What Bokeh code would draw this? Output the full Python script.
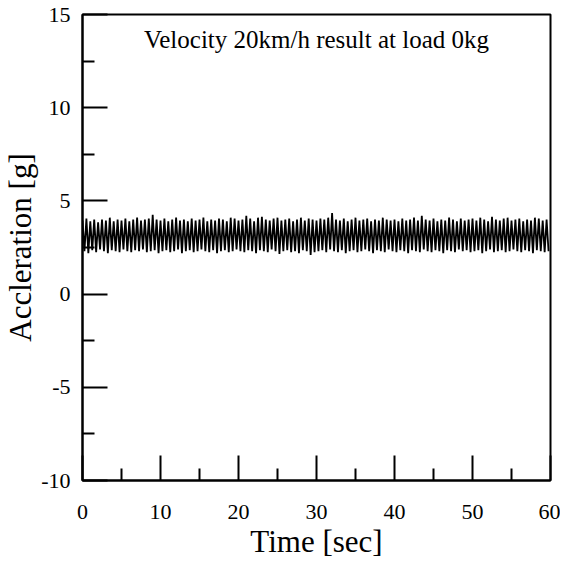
import numpy as np
from bokeh.plotting import figure
from bokeh.models import FixedTicker, Label, PrintfTickFormatter
from bokeh.embed import file_html
from bokeh.resources import INLINE

# ---- data ----
sample_period = 0.25  # sec between successive extremes
peak_values = [
    3.95,4.05,3.9,4.0,3.85,4.0,3.95,4.1,3.9,4.0,3.95,4.05,3.9,4.0,4.1,3.95,4.0,4.05,4.25,4.0,
    3.95,4.05,3.9,4.0,4.1,3.95,4.0,3.9,4.05,3.95,4.0,4.1,3.9,4.0,3.95,4.05,4.0,3.9,4.1,4.05,
    3.95,4.0,4.2,4.05,3.9,4.1,4.15,4.0,3.95,4.05,4.1,3.95,4.0,4.05,3.9,4.0,4.1,3.95,4.05,4.0,
    3.95,4.05,4.0,4.1,4.35,4.0,3.95,4.05,3.9,4.0,4.1,3.95,4.0,4.05,3.9,4.0,3.95,4.1,4.0,3.95,
    4.0,3.9,4.05,3.95,4.0,4.1,3.95,4.2,4.0,3.95,4.05,3.9,4.0,3.95,4.1,4.0,3.9,4.05,3.95,4.0,
    4.05,3.95,4.1,4.0,3.9,4.15,4.0,3.95,4.05,4.1,3.95,4.0,4.05,3.9,4.0,3.95,4.1,4.05,3.95,4.0,
]
trough_values = [
    2.3,2.2,2.35,2.25,2.4,2.3,2.2,2.35,2.3,2.25,2.4,2.3,2.25,2.35,2.3,2.4,2.25,2.3,2.35,2.2,
    2.3,2.35,2.25,2.3,2.4,2.2,2.3,2.35,2.25,2.3,2.4,2.3,2.25,2.35,2.2,2.3,2.35,2.25,2.3,2.4,
    2.3,2.25,2.35,2.3,2.2,2.35,2.3,2.25,2.4,2.3,2.15,2.3,2.35,2.25,2.3,2.2,2.35,2.3,2.1,2.25,
    2.3,2.35,2.25,2.4,2.3,2.25,2.35,2.2,2.3,2.35,2.25,2.3,2.4,2.3,2.2,2.35,2.3,2.25,2.4,2.3,
    2.25,2.35,2.3,2.2,2.35,2.3,2.25,2.4,2.3,2.25,2.35,2.3,2.2,2.35,2.3,2.25,2.4,2.3,2.35,2.25,
    2.3,2.35,2.2,2.3,2.4,2.25,2.3,2.35,2.25,2.3,2.4,2.3,2.25,2.35,2.3,2.2,2.35,2.3,2.25,2.3,
]
y_major_ticks = [-10, -5, 0, 5, 10, 15]
y_minor_ticks = [-7.5, -2.5, 2.5, 7.5, 12.5]
x_major_ticks = [0, 10, 20, 30, 40, 50, 60]
x_minor_ticks = [5, 15, 25, 35, 45, 55]
title_text = "Velocity 20km/h result at load 0kg"

accel = np.empty(len(peak_values) + len(trough_values))
accel[0::2] = peak_values
accel[1::2] = trough_values
time = np.arange(len(accel)) * sample_period

FONT = "Liberation Serif"
TICK_FONT = "Times New Roman"

p = figure(width=560, height=562, x_range=(0, 60), y_range=(-10, 15),
           output_backend="svg", toolbar_location=None,
           min_border_left=82, min_border_right=10, min_border_top=14, min_border_bottom=82)

p.line(time, accel, line_color="black", line_width=1.8)

p.xgrid.grid_line_alpha = 0
p.ygrid.grid_line_alpha = 0
p.outline_line_color = "black"
p.outline_line_width = 2
p.outline_line_alpha = 1

fmt = PrintfTickFormatter(format="%d")
p.xaxis.ticker = FixedTicker(ticks=x_major_ticks, minor_ticks=x_minor_ticks)
p.yaxis.ticker = FixedTicker(ticks=y_major_ticks, minor_ticks=y_minor_ticks)
p.xaxis.formatter = fmt
p.yaxis.formatter = fmt

for ax in (p.xaxis[0], p.yaxis[0]):
    ax.axis_line_color = "black"
    ax.axis_line_width = 2
    ax.major_tick_line_color = "black"
    ax.major_tick_line_width = 2
    ax.minor_tick_line_color = "black"
    ax.minor_tick_line_width = 2
    ax.major_tick_in = 25
    ax.major_tick_out = 0
    ax.minor_tick_in = 12
    ax.minor_tick_out = 0
    ax.major_label_text_font = TICK_FONT
    ax.major_label_text_font_size = "22px"
    ax.major_label_text_color = "black"
    ax.axis_label_text_font = FONT
    ax.axis_label_text_font_size = "31px"
    ax.axis_label_text_font_style = "normal"
    ax.axis_label_text_color = "black"

p.xaxis.axis_label = "Time [sec]"
p.yaxis.axis_label = "Accleration [g]"
p.xaxis.major_label_standoff = 24
p.yaxis.major_label_standoff = 12
p.xaxis.axis_label_standoff = 2
p.yaxis.axis_label_standoff = 0

p.add_layout(Label(x=30, y=13.65, text=title_text, text_align="center",
                   text_baseline="middle", text_font=TICK_FONT, text_font_size="25px",
                   text_color="black"))

open("out.html", "w").write(file_html(p, INLINE))
